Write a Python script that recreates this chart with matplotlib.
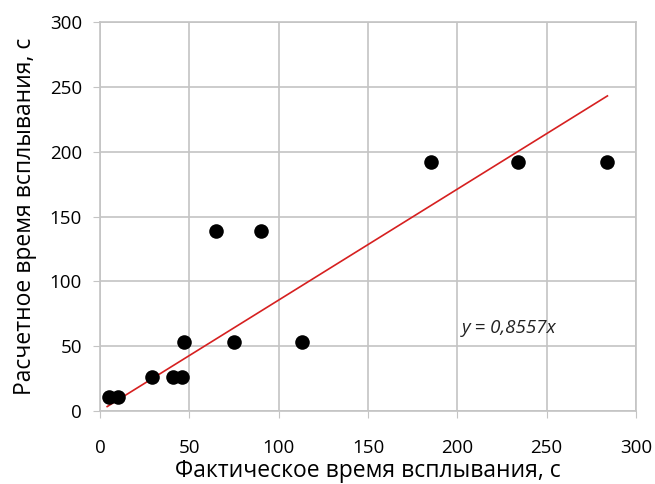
import numpy as np
from matplotlib import pyplot as plt

plt.rcParams['font.family'] = ['Open Sans', 'DejaVu Sans']

# actual vs calculated surfacing time, s
actual = [5, 10, 29, 41, 46, 47, 65, 75, 90, 113, 185, 234, 284]
calculated = [11, 11, 26, 26, 26, 53, 139, 53, 139, 53, 192, 192, 192]
slope = 0.8557

fig = plt.figure(figsize=(6.55, 4.84), dpi=100)
ax = fig.add_axes([0.1527, 0.1508, 0.8183, 0.8037])

ax.scatter(actual, calculated, s=110, color='black', zorder=3, linewidths=0)

xs = np.array([min(actual) - 1, max(actual)])
ax.plot(xs, slope * xs, color='#d62020', linewidth=1.2, zorder=2)

ax.text(202.5, 64, 'y = 0,8557x', fontsize=13.5, style='italic',
        color='#222222', va='center')

ax.set_xlim(0, 300)
ax.set_ylim(0, 300)
ax.set_xticks(range(0, 301, 50))
ax.set_yticks(range(0, 301, 50))
ax.grid(True, color='#c4c4c4', linewidth=1.2)
ax.set_axisbelow(True)
for s in ax.spines.values():
    s.set_color('#c4c4c4')
    s.set_linewidth(1.2)
ax.tick_params(length=5, color='#c4c4c4', labelsize=13.5)
ax.tick_params(axis='x', pad=15.5)
ax.tick_params(axis='y', pad=8)

ax.set_xlabel('Фактическое время всплывания, с', fontsize=16.5, labelpad=1)
ax.set_ylabel('Расчетное время всплывания, с', fontsize=16.5, labelpad=9)

plt.savefig('out.png', dpi=100)
